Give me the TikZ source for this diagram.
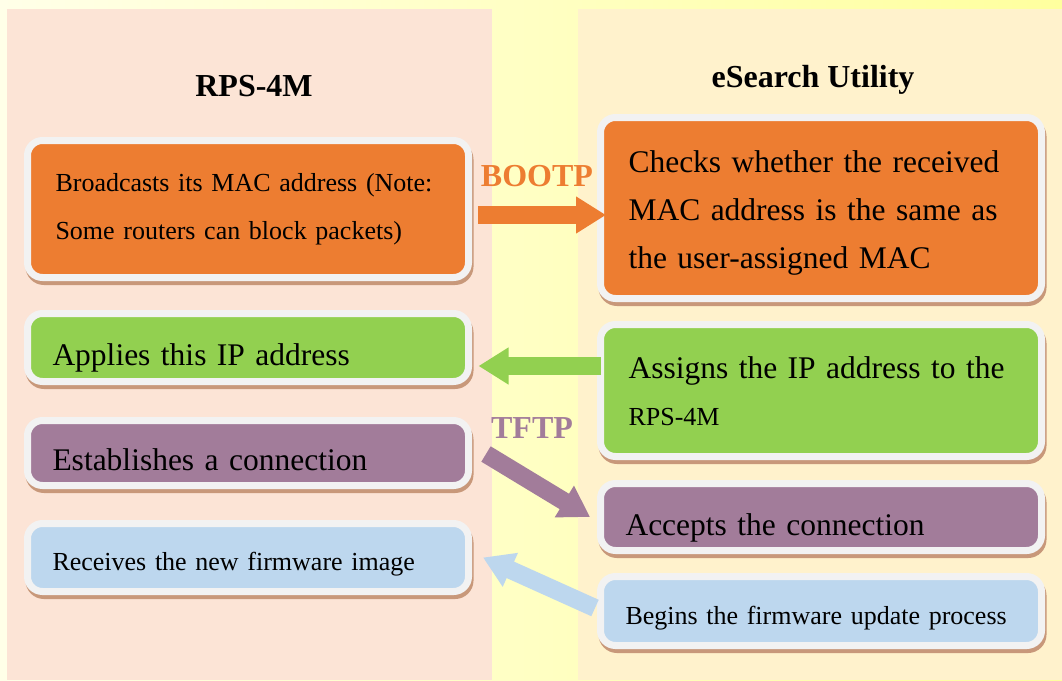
\documentclass[tikz,border=0pt]{standalone}
\usepackage{fontspec}
\setmainfont{Liberation Serif}
\usetikzlibrary{arrows.meta}
\definecolor{cOrange}{HTML}{ED7D31}
\definecolor{cGreen}{HTML}{92D050}
\definecolor{cPurple}{HTML}{A27C9A}
\definecolor{cBlue}{HTML}{BDD7EE}
\definecolor{cBorder}{HTML}{F2F2F2}
\definecolor{cShadow}{HTML}{C8987A}
\definecolor{cLeft}{HTML}{FCE4D6}
\definecolor{cRight}{HTML}{FFF2CC}
\definecolor{cPaleA}{HTML}{FFFFE8}
\definecolor{cPaleB}{HTML}{FFFF9E}
\newcommand{\smalltxt}{\fontsize{26}{48}\selectfont}
\newcommand{\bigtxt}{\fontsize{31.5}{48}\selectfont}
\begin{document}
\begin{tikzpicture}[x=1pt,y=-1pt,
  card/.style={anchor=north west, outer sep=0pt, rounded corners=15pt, draw=cBorder, line width=7pt,
    inner xsep=25pt, inner ysep=0pt, minimum width=441pt, text width=391pt, align=left,
    preaction={draw=cShadow, line width=7pt, transform canvas={xshift=1.5pt,yshift=-4pt}}},
  wide/.style={inner xsep=28pt, text width=385pt},
  head/.style={font=\bfseries\fontsize{32}{38}\selectfont},
  tag/.style={font=\bfseries\fontsize{32}{38}\selectfont},
  flow/.style={draw=#1, line width=18pt, -{Triangle[length=30pt,width=35pt,fill=#1]}}]
% panels
\useasboundingbox (0,0) rectangle (1062,680);
\shade[left color=cPaleA, right color=cPaleB] (0,0) rectangle (1062,680);
\fill[cLeft] (7,9) rectangle (492,680);
\fill[cRight] (578,9) rectangle (1062,680);
\node[head] (T0) at (254,86) {RPS-4M};
\node[head] (T1) at (813,80) {eSearch Utility};
% RPS-4M side
\node[card, wide, fill=cOrange, minimum height=137pt, text height=51pt, text depth=86pt, font=\smalltxt] (L0) at (27.5,140.5)
  {Broadcasts its MAC address (Note:\\Some routers can block packets)};
\node[card, fill=cGreen, minimum height=68pt, text height=51.5pt, text depth=16.5pt, font=\bigtxt] (L1) at (27.5,313.5) {Applies this IP address};
\node[card, fill=cPurple, minimum height=65pt, text height=49.5pt, text depth=15.5pt, font=\bigtxt] (L2) at (27.5,420.5) {Establishes a connection};
\node[card, fill=cBlue, minimum height=68pt, text height=47pt, text depth=21pt, font=\smalltxt] (L3) at (27.5,523.5) {Receives the new firmware image};
% eSearch side
\node[card, wide, fill=cOrange, minimum height=181pt, text height=54.5pt, text depth=126.5pt, font=\bigtxt] (R0) at (600.5,117.5)
  {Checks whether the received\\MAC address is the same as\\the user-assigned MAC};
\node[card, wide, fill=cGreen, minimum height=132pt, text height=53.5pt, text depth=78.5pt, font=\bigtxt] (R1) at (600.5,324.5)
  {Assigns the IP address to the\\[-1pt]{\smalltxt RPS-4M}};
\node[card, fill=cPurple, minimum height=67pt, text height=51.5pt, text depth=15.5pt, font=\bigtxt] (R2) at (600.5,483.5) {Accepts the connection};
\node[card, fill=cBlue, minimum height=69pt, text height=47.5pt, text depth=21.5pt, font=\smalltxt] (R3) at (600.5,576.5) {Begins the firmware update process};
% messages
\draw[flow=cOrange] ([xshift=9.5pt,yshift=-6pt]L0.east) -- ([xshift=5.5pt,yshift=-7pt]R0.west);
\node[tag, text=cOrange] (B0) at (537,176) {BOOTP};
\draw[flow=cGreen] ([yshift=24.5pt]R1.west) -- ([xshift=10pt,yshift=-18.5pt]L1.east);
\node[tag, text=cPurple] (B1) at (532,428) {TFTP};
\draw[flow=cPurple] ([xshift=17.5pt,yshift=-1pt]L2.east) -- ([xshift=-10.5pt]R2.west);
\draw[flow=cBlue] ([xshift=-5.5pt,yshift=3pt]R3.west) -- ([xshift=14.5pt]L3.east);
\end{tikzpicture}
\end{document}
